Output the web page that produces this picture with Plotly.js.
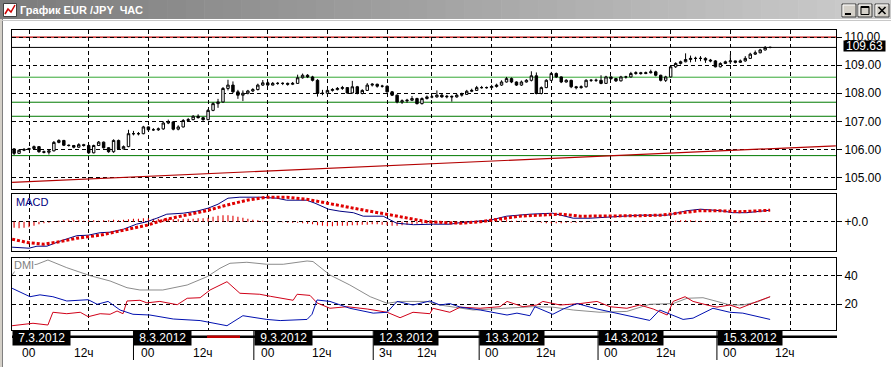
<!DOCTYPE html>
<html><head><meta charset="utf-8">
<script src="https://cdn.plot.ly/plotly-3.0.1.min.js"></script>
<style>html,body{margin:0;padding:0;background:#fff;overflow:hidden}#chart{width:891px;height:367px}</style>
</head><body><div id="chart"></div>
<script>
// ---------- DATA (hourly bars, index 0 = 7.3.2012 00:00) ----------
const firstBar = -3;
const opens = [106.02,105.86,105.97,106.00,106.03,106.10,105.92,105.90,105.95,106.25,
 106.32,106.15,106.14,106.08,106.17,106.14,105.88,106.14,106.26,106.06,
 105.92,106.32,106.02,106.10,106.56,106.56,106.56,106.80,106.70,106.70,
 106.73,106.94,106.98,106.72,106.80,107.03,107.06,107.18,107.13,107.06,
 107.39,107.63,107.69,108.17,108.29,108.05,107.93,108.00,108.08,108.13,
 108.29,108.37,108.29,108.35,108.35,108.35,108.32,108.35,108.55,108.64,
 108.58,108.46,107.99,108.00,108.10,108.13,108.17,108.20,108.01,108.23,
 107.99,108.10,108.29,108.32,108.25,108.25,108.05,107.93,107.69,107.73,
 107.75,107.81,107.63,107.81,107.87,107.87,107.93,107.87,107.89,107.87,
 107.93,107.96,108.07,108.10,108.20,108.20,108.20,108.24,108.29,108.40,
 108.52,108.40,108.29,108.40,108.46,108.62,107.99,108.20,108.46,108.70,
 108.58,108.40,108.46,108.23,108.20,108.23,108.46,108.46,108.46,108.35,
 108.58,108.52,108.44,108.58,108.58,108.70,108.73,108.70,108.73,108.76,
 108.64,108.46,108.58,108.94,109.06,109.12,109.20,109.24,109.24,109.24,
 109.18,109.15,108.94,109.06,109.12,109.15,109.10,109.15,109.24,109.39,
 109.44,109.54,109.63];
const highs = [106.05,106.00,106.05,106.06,106.14,106.12,105.96,105.98,106.30,106.36,
 106.34,106.18,106.16,106.22,106.20,106.18,106.17,106.30,106.28,106.08,
 106.36,106.35,106.14,106.70,106.66,106.62,106.84,106.82,106.76,106.78,
 107.00,107.06,107.00,106.86,107.08,107.12,107.22,107.25,107.16,107.44,
 107.68,107.80,108.22,108.48,108.42,108.12,108.10,108.12,108.18,108.34,
 108.47,108.42,108.40,108.40,108.39,108.38,108.40,108.66,108.70,108.68,
 108.62,108.50,108.12,108.14,108.18,108.22,108.26,108.22,108.44,108.26,
 108.14,108.36,108.36,108.34,108.30,108.28,108.08,107.96,107.78,107.80,
 107.90,107.84,107.85,107.92,107.94,108.10,108.00,107.94,107.92,107.98,
 108.02,108.12,108.16,108.26,108.26,108.24,108.30,108.34,108.46,108.58,
 108.56,108.42,108.45,108.50,108.78,108.74,108.24,108.50,108.76,108.74,
 108.60,108.50,108.48,108.26,108.28,108.50,108.50,108.52,108.64,108.62,
 108.60,108.54,108.62,108.62,108.76,108.78,108.76,108.77,108.84,108.80,
 108.66,108.62,108.98,109.10,109.16,109.42,109.34,109.30,109.32,109.28,
 109.22,109.18,109.10,109.16,109.38,109.16,109.20,109.32,109.44,109.52,
 109.58,109.68,109.66];
const lows = [105.80,105.84,105.94,105.97,106.00,105.88,105.86,105.82,105.93,106.22,
 106.12,106.10,106.04,106.06,106.10,105.84,105.86,106.12,106.03,105.88,
 105.88,105.98,106.00,106.08,106.50,106.50,106.54,106.66,106.66,106.66,
 106.70,106.90,106.68,106.68,106.78,107.00,107.04,107.10,107.02,107.04,
 107.36,107.48,107.66,108.10,108.00,107.80,107.72,107.96,108.04,108.10,
 108.26,108.26,108.28,108.30,108.29,108.27,108.29,108.33,108.52,108.54,
 108.42,107.88,107.93,107.96,108.06,108.10,108.12,107.98,107.99,107.96,
 107.96,108.08,108.24,108.20,108.20,108.02,107.90,107.64,107.62,107.66,
 107.72,107.60,107.60,107.78,107.82,107.84,107.84,107.82,107.70,107.84,
 107.88,107.94,108.04,108.08,108.16,108.16,108.18,108.20,108.26,108.38,
 108.36,108.26,108.26,108.38,108.42,107.96,107.96,108.18,108.44,108.54,
 108.36,108.38,108.18,108.14,108.16,108.20,108.40,108.40,108.32,108.33,
 108.48,108.40,108.42,108.52,108.56,108.66,108.66,108.68,108.70,108.60,
 108.42,108.40,108.56,108.90,109.02,109.10,109.10,109.12,109.14,109.08,
 109.10,108.92,108.92,109.04,109.04,109.06,109.08,109.12,109.22,109.36,
 109.42,109.52,109.60];
const closes = [105.86,105.97,106.00,106.03,106.10,105.92,105.90,105.95,106.25,106.32,
 106.15,106.14,106.08,106.17,106.14,105.88,106.14,106.26,106.06,105.92,
 106.32,106.02,106.10,106.56,106.56,106.56,106.80,106.70,106.70,106.73,
 106.94,106.98,106.72,106.80,107.03,107.06,107.18,107.13,107.06,107.39,
 107.63,107.69,108.17,108.29,108.05,107.93,108.00,108.08,108.13,108.29,
 108.37,108.29,108.35,108.35,108.35,108.32,108.35,108.55,108.64,108.58,
 108.46,107.99,108.00,108.10,108.13,108.17,108.20,108.01,108.23,107.99,
 108.10,108.29,108.32,108.25,108.25,108.05,107.93,107.69,107.73,107.75,
 107.81,107.63,107.81,107.87,107.87,107.93,107.87,107.89,107.87,107.93,
 107.96,108.07,108.10,108.20,108.20,108.20,108.24,108.29,108.40,108.52,
 108.40,108.29,108.40,108.46,108.62,107.99,108.20,108.46,108.70,108.58,
 108.40,108.46,108.23,108.20,108.23,108.46,108.46,108.46,108.35,108.58,
 108.52,108.44,108.58,108.58,108.70,108.73,108.70,108.73,108.76,108.64,
 108.46,108.58,108.94,109.06,109.12,109.20,109.24,109.24,109.24,109.18,
 109.15,108.94,109.06,109.12,109.15,109.10,109.15,109.24,109.39,109.44,
 109.54,109.63,109.63];

const greenLevels = [108.57, 107.68, 107.18, 105.78];
const resistanceLevel = 110.00;
const lastPrice = 109.63;
const trendBars = [-3.4, 162.2];
const trendValues = [104.83, 106.13];

const macdHist = [-0.12,-0.13,-0.12,-0.11,-0.08,-0.05,-0.03,-0.02,0.01,0.02,
 0.03,0.03,0.03,0.03,0.02,0.03,0.03,0.02,0.03,0.03,
 0.04,0.03,0.04,0.05,0.06,0.06,0.07,0.07,0.06,0.06,
 0.05,0.06,0.05,0.05,0.06,0.06,0.06,0.07,0.07,0.08,
 0.10,0.12,0.13,0.13,0.12,0.10,0.08,0.06,0.04,0.03,
 0.02,0.01,0.00,-0.01,-0.01,-0.02,-0.02,-0.02,-0.03,-0.04,
 -0.05,-0.07,-0.08,-0.09,-0.09,-0.08,-0.08,-0.08,-0.07,-0.07,
 -0.06,-0.06,-0.05,-0.05,-0.06,-0.07,-0.08,-0.08,-0.07,-0.06,
 -0.05,-0.04,-0.04,-0.03,-0.03,-0.02,-0.02,-0.02,-0.01,-0.01,
 0.00,0.01,0.01,0.02,0.02,0.03,0.03,0.03,0.03,0.03,
 0.02,0.02,0.02,0.01,0.01,-0.01,-0.02,-0.03,-0.03,-0.03,
 -0.03,-0.02,-0.02,-0.02,-0.01,-0.01,-0.01,0.00,0.00,0.00,
 0.01,0.01,0.00,0.00,0.00,0.01,0.01,0.01,0.01,0.00,
 0.00,0.00,0.01,0.02,0.03,0.03,0.03,0.02,0.02,0.01,
 0.01,0.00,0.00,0.00,0.00,-0.01,-0.01,0.00,0.00,0.01,
 0.01,0.01,0.01];

const macdBars = [-3.4,0,1.6,3.6,6.2,9.6,11.9,14.3,16.3,19,21.6,23.7,25.7,27.7,31,33.7,36,38,40,42.4,46.4,49.8,51.8,55.8,57.5,60.2,62.5,65.2,67.2,71.2,73.9,77.3,81.3,84.6,86.6,92.7,96,100.7,105.3,109.4,112.8,116.8,122.8,128.3,132.3,135,139,141.5,144.3,149];
const macdMain = [-0.51,-0.53,-0.49,-0.49,-0.39,-0.28,-0.27,-0.22,-0.21,-0.15,-0.05,0.0,0.07,0.15,0.17,0.21,0.27,0.35,0.47,0.49,0.49,0.47,0.43,0.43,0.37,0.25,0.21,0.18,0.11,0.11,-0.03,-0.06,-0.05,-0.05,-0.02,0.03,0.11,0.15,0.17,0.07,0.07,0.10,0.13,0.13,0.22,0.25,0.22,0.18,0.18,0.23];
const signalBars = [-3.4,-0.1,2.9,6.2,9.6,14.3,19,23.7,27.7,31.7,35.7,39.7,43.8,47.8,51.8,55.8,59.8,63.9,67.9,71.9,75.9,80,84,86.7,90.7,94.7,98.7,102.7,106.8,110.8,114.8,118.8,122.8,126.9,130.9,134.9,138.9,142.9,149];
const macdSignal = [-0.35,-0.42,-0.45,-0.40,-0.33,-0.27,-0.17,-0.07,0.05,0.14,0.22,0.33,0.43,0.49,0.49,0.45,0.37,0.29,0.22,0.15,0.07,0.0,-0.02,-0.03,0.0,0.05,0.11,0.13,0.15,0.11,0.11,0.11,0.12,0.13,0.17,0.22,0.22,0.20,0.23];

const adxBars = [-3.4,-2.2,1.6,3.8,7.6,12.3,16.3,19.7,22.3,26.9,31.8,35.8,38.4,40.4,43.8,47.8,51.1,55.9,57.1,60.5,64.5,68.6,72,74.6,80,82.6,89.3,96.1,101.3,105.3,109.4,114.8,120.2,124.8,129.5,132.3,135.5,138.3,140.9,143.5,146.4,149];
const adxValues = [40.5,46.3,48,51,45.6,40,36.3,31.6,30,30,33.5,39.3,45.2,48.7,49.4,48,48,50.3,49.9,40.5,33.5,25.3,20.7,22,22,19.5,16,17.2,18.3,18,16,14.4,15,20,20.5,24.2,24.6,22,19.5,19.5,21.6,25.3];
const plusDiBars = [-3.4,-0.4,0.8,3.8,4.8,7.6,10.3,11.9,14.3,16.3,17.7,18.9,19.7,22.3,23.7,26.3,29.8,31.8,34.4,36.4,39.8,42.4,46.4,48.5,53.1,53.9,56.5,57.9,60.5,63.9,68,72,74.6,77.2,80.6,81.2,82.6,84.6,86.7,90.7,94.7,96.1,99.3,102.1,103.3,106.8,110.8,114.2,116.8,120.2,122.8,125.5,128.3,129.5,131.9,133.5,136.3,138.3,140.9,142.9,146.4,149];
const plusDiValues = [5,6.5,6.7,5.5,14.4,13.4,14.4,11.3,13.4,13,15.3,13.4,22.3,22.8,21,22,19.7,24.2,24.6,30,35.8,27.7,27,25.6,22.8,27,26.2,21,17.2,18.3,16.7,14.4,10.6,14.4,13.4,17.2,16,14.4,18,17.2,18.3,22,18.3,19.5,22,19.5,20.5,22,18.3,17.2,19.5,16.7,12.5,22,25.3,22,19.5,18,19.5,17.2,22,25.3];
const minusDiBars = [-3.4,0.2,2.2,4.8,7.6,11.9,13.7,15.9,18.3,20.9,24.3,29,34.4,37.8,39.8,43,47.8,50.5,55.9,56.9,57.9,60.5,64.5,69.2,72,74,77.2,80.6,82.6,84.6,86.7,90.7,96.1,98.1,100.7,101.7,105.3,107.4,110.2,114.2,118.8,122.8,124.8,126.8,129.5,131.5,133.5,135.5,137.5,140.9,143.5,149];
const minusDiValues = [31.2,25.3,26.6,25.3,22.3,23.2,20,22,16,13,12.5,9.7,8.6,6.1,5,12,9.4,8.6,9.4,13,23,22,17.2,13.8,14.4,22,19.5,22.3,19.5,20.5,18,16,12.5,13.8,12,18.3,13,16.7,20.5,16.7,13,10.3,8.7,16,12.5,9.4,10.3,13.8,17.2,14.4,13.8,9.4];

const priceTicks = [105, 106, 107, 108, 109, 110];
const macdTicks = [0];
const macdTickText = ['+0.0'];
const dmiTicks = [20, 40];
const gridBars = [0, 12, 24, 36, 48, 60, 72, 81, 93, 105, 117, 129, 141, 153];
const hourLabels = ['00','12ч','00','12ч','00','12ч','3ч','12ч','00','12ч','00','12ч','00','12ч'];
const dateLabels = ['7.3.2012','8.3.2012','9.3.2012','12.3.2012','13.3.2012','14.3.2012','15.3.2012'];
const dateBars = [-3.42, 21, 45.2, 69.2, 90.5, 114.4, 138.3];

// ---------- LAYOUT HELPERS ----------
const W = 891, H = 367, L = 12, R = 836, T = 30, B = 330;
const PX = x => (x - L) / (R - L);
const PY = y => (B - y) / (B - T);
const barIndex = opens.map((_, i) => firstBar + i);

const FONT = 'Liberation Sans, Arial, sans-serif';
const dashGrid = '4px,3px';

const traces = [
  {type:'scatter', mode:'lines', x:trendBars, y:trendValues, xaxis:'x', yaxis:'y',
   line:{color:'#b40000', width:1.2}, hoverinfo:'skip'},
  {type:'candlestick', x:barIndex, open:opens, high:highs, low:lows, close:closes, xaxis:'x', yaxis:'y',
   increasing:{line:{color:'#000', width:1}, fillcolor:'#fff'},
   decreasing:{line:{color:'#000', width:1}, fillcolor:'#000'}, whiskerwidth:0},
  {type:'bar', x:barIndex, y:macdHist, xaxis:'x', yaxis:'y2', width:0.22,
   marker:{color:'#e00000', line:{width:0}}},
  {type:'scatter', mode:'lines', x:macdBars, y:macdMain, xaxis:'x', yaxis:'y2',
   line:{color:'#000080', width:1}},
  {type:'scatter', mode:'lines', x:signalBars, y:macdSignal, xaxis:'x', yaxis:'y2',
   line:{color:'#e00000', width:3, dash:'3px,2px'}},
  {type:'scatter', mode:'lines', x:adxBars, y:adxValues, xaxis:'x', yaxis:'y3',
   line:{color:'#8c8c8c', width:1}},
  {type:'scatter', mode:'lines', x:plusDiBars, y:plusDiValues, xaxis:'x', yaxis:'y3',
   line:{color:'#d00018', width:1}},
  {type:'scatter', mode:'lines', x:minusDiBars, y:minusDiValues, xaxis:'x', yaxis:'y3',
   line:{color:'#0010b0', width:1}}
];

const shapes = [];
// window frame / title bar
const strips = 48;
for (let i = 0; i < strips; i++) {
  const t = i / (strips - 1);
  const c = Math.round(124 + t * (204 - 124));
  shapes.push({type:'rect', xref:'paper', yref:'paper', x0:PX(i*W/strips), x1:PX((i+1)*W/strips + 0.6),
    y0:PY(19), y1:PY(0), fillcolor:`rgb(${c},${c},${c})`, line:{width:0}, layer:'below'});
}
shapes.push({type:'rect', xref:'paper', yref:'paper', x0:PX(0), x1:PX(2), y0:PY(H), y1:PY(19), fillcolor:'#d4d0c8', line:{width:0}, layer:'below'});
shapes.push({type:'line', xref:'paper', yref:'paper', x0:PX(2.5), x1:PX(2.5), y0:PY(H), y1:PY(19), line:{color:'#808080', width:1}, layer:'below'});
shapes.push({type:'line', xref:'paper', yref:'paper', x0:PX(2), x1:PX(W), y0:PY(20.5), y1:PY(20.5), line:{color:'#c8c8c8', width:1}, layer:'below'});
// icon
shapes.push({type:'rect', xref:'paper', yref:'paper', x0:PX(3.5), x1:PX(16.5), y0:PY(16.5), y1:PY(3.5), fillcolor:'#fff', line:{color:'#404040', width:1}, layer:'above'});
shapes.push({type:'path', xref:'paper', yref:'paper', path:`M${PX(5)},${PY(14)} L${PX(8)},${PY(9)} L${PX(11)},${PY(12)} L${PX(15)},${PY(5)}`, line:{color:'#d00000', width:1.5}, layer:'above'});
// window buttons
[[842,856],[858,872],[875,889]].forEach(([a,b]) => {
  shapes.push({type:'rect', xref:'paper', yref:'paper', x0:PX(a), x1:PX(b), y0:PY(17), y1:PY(4), fillcolor:'#d4d0c8', line:{color:'#404040', width:1}, layer:'above'});
  shapes.push({type:'path', xref:'paper', yref:'paper', path:`M${PX(a+1)},${PY(16)} L${PX(a+1)},${PY(5)} L${PX(b-1)},${PY(5)}`, line:{color:'#ffffff', width:1}, layer:'above'});
});
shapes.push({type:'line', xref:'paper', yref:'paper', x0:PX(845), x1:PX(851), y0:PY(14), y1:PY(14), line:{color:'#000', width:2}, layer:'above'});
shapes.push({type:'rect', xref:'paper', yref:'paper', x0:PX(861), x1:PX(869), y0:PY(14.5), y1:PY(6.5), line:{color:'#000', width:1}, layer:'above'});
shapes.push({type:'line', xref:'paper', yref:'paper', x0:PX(861), x1:PX(869), y0:PY(7.5), y1:PY(7.5), line:{color:'#000', width:1}, layer:'above'});
shapes.push({type:'line', xref:'paper', yref:'paper', x0:PX(878.5), x1:PX(885.5), y0:PY(7), y1:PY(14), line:{color:'#000', width:1.6}, layer:'above'});
shapes.push({type:'line', xref:'paper', yref:'paper', x0:PX(878.5), x1:PX(885.5), y0:PY(14), y1:PY(7), line:{color:'#000', width:1.6}, layer:'above'});

// price levels
greenLevels.forEach((v, i) => shapes.push({type:'line', xref:'paper', x0:0, x1:1, yref:'y', y0:v, y1:v,
  line:{color: i === 0 ? '#34a834' : '#007a00', width:1}, layer:'below'}));
shapes.push({type:'line', xref:'paper', x0:0, x1:1, yref:'y', y0:resistanceLevel, y1:resistanceLevel, line:{color:'#c00000', width:1.3}, layer:'below'});
shapes.push({type:'line', xref:'paper', x0:0, x1:1, yref:'y', y0:lastPrice, y1:lastPrice, line:{color:'#000', width:1}, layer:'below'});

// time scale
shapes.push({type:'line', xref:'paper', yref:'paper', x0:PX(12), x1:PX(837), y0:PY(336.7), y1:PY(336.7), line:{color:'#000', width:2.5}, layer:'above'});
shapes.push({type:'line', xref:'paper', yref:'paper', x0:PX(207), x1:PX(240), y0:PY(336.7), y1:PY(336.7), line:{color:'#c00000', width:2.5}, layer:'above'});
dateBars.slice(1).forEach(b => shapes.push({type:'line', xref:'x', yref:'paper', x0:b, x1:b, y0:PY(331), y1:PY(360), line:{color:'#000', width:1}, layer:'above'}));

const annotations = [];
annotations.push({xref:'paper', yref:'paper', x:PX(14), y:PY(201.5), xanchor:'left', yanchor:'middle', showarrow:false,
  text:'MACD', font:{family:FONT, size:11, color:'#000080'}});
annotations.push({xref:'paper', yref:'paper', x:PX(13), y:PY(265), xanchor:'left', yanchor:'middle', showarrow:false,
  text:'DMI', font:{family:FONT, size:11, color:'#808080'}, bgcolor:'#fff', borderpad:0});
annotations.push({xref:'paper', yref:'y', x:PX(843), y:lastPrice, yshift:1, xanchor:'left', yanchor:'middle', showarrow:false,
  text:lastPrice.toFixed(2), font:{family:FONT, size:12, color:'#fff'}, bgcolor:'#000', borderpad:0, width:41, height:10});
dateLabels.forEach((t, i) => annotations.push({xref:'x', yref:'paper', x:dateBars[i], y:PY(338), xanchor:'left', yanchor:'middle', showarrow:false,
  text:'\u00a0' + t + '\u00a0', font:{family:FONT, size:12, color:'#fff'}, bgcolor:'#000', borderpad:2, height:10}));
hourLabels.forEach((t, i) => annotations.push({xref:'x', yref:'paper', x:gridBars[i], y:PY(353), xanchor:'center', yanchor:'middle', showarrow:false,
  xshift: t === '00' ? 0 : (t === '3ч' ? -2 : -5), text:t, font:{family:FONT, size:12, color:'#000'}}));

const yCommon = {side:'right', anchor:'x', showgrid:true, gridcolor:'#000', griddash:dashGrid, gridwidth:1,
  showline:true, mirror:true, linecolor:'#000', linewidth:1, ticks:'outside', ticklen:5, tickcolor:'#000',
  tickfont:{family:FONT, size:12, color:'#000'}, zeroline:false, fixedrange:true};

const layout = {
  width:W, height:H, autosize:false,
  margin:{l:L, r:W-R, t:T, b:H-B, pad:0},
  paper_bgcolor:'#fff', plot_bgcolor:'#fff', showlegend:false, hovermode:false,
  title:{text:'<b>График EUR /JPY  ЧАС</b>', xref:'container', yref:'container', x:20/W, xanchor:'left', y:1-10/H, yanchor:'middle',
    font:{family:FONT, size:11, color:'#fff'}},
  xaxis:{domain:[0,1], range:[-3.42, 162.24], anchor:'y3', tickvals:gridBars, showticklabels:false, ticks:'',
    showgrid:true, gridcolor:'#000', griddash:dashGrid, gridwidth:1, showline:true, mirror:'all', linecolor:'#000', linewidth:1,
    zeroline:false, rangeslider:{visible:false}, fixedrange:true},
  yaxis:Object.assign({}, yCommon, {domain:[PY(188.5), 1], range:[104.61, 110.25], tickvals:priceTicks,
    ticktext:priceTicks.map(v => v.toFixed(2))}),
  yaxis2:Object.assign({}, yCommon, {domain:[PY(251), PY(194.3)], range:[-0.586, 0.548], tickvals:macdTicks, ticktext:macdTickText}),
  yaxis3:Object.assign({}, yCommon, {domain:[0, PY(257.7)], range:[2, 52.6], tickvals:dmiTicks, ticktext:dmiTicks.map(String)}),
  shapes:shapes, annotations:annotations
};

Plotly.newPlot('chart', traces, layout, {staticPlot:true, displayModeBar:false});
</script>
</body></html>
